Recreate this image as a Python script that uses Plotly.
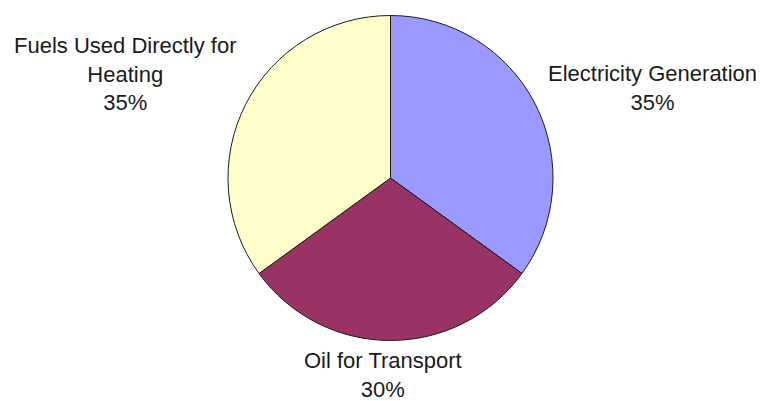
import plotly.graph_objects as go

# Share of fuel use by purpose
categories = ["Electricity Generation", "Oil for Transport", "Fuels Used Directly for<br>Heating"]
shares = [35, 30, 35]
colors = ["#9999FF", "#993366", "#FFFFCC"]

W, H = 761, 401

fig = go.Figure(
    go.Pie(
        labels=categories,
        values=shares,
        sort=False,
        direction="clockwise",
        rotation=0,
        marker=dict(colors=colors, line=dict(color="#1a1a1a", width=1)),
        textinfo="none",
        hoverinfo="label+percent",
        showlegend=False,
        domain=dict(x=[228 / W, 553 / W], y=[1 - 341 / H, 1 - 15 / H]),
    )
)

# Label blocks placed beside each slice (pixel centres)
label_pos = [(652, 88), (383, 375), (125, 74)]
for name, val, (px, py) in zip(categories, shares, label_pos):
    fig.add_annotation(
        text=f"{name}<br>{val}%",
        xref="paper", yref="paper",
        x=px / W, y=1 - py / H,
        xanchor="center", yanchor="middle",
        showarrow=False,
        align="center",
        font=dict(family="Liberation Sans, Arial, sans-serif", size=22, color="#1a1a1a"),
    )

fig.update_layout(
    width=W, height=H,
    margin=dict(l=0, r=0, t=0, b=0),
    paper_bgcolor="white",
    plot_bgcolor="white",
)

fig.write_html("out.html")
